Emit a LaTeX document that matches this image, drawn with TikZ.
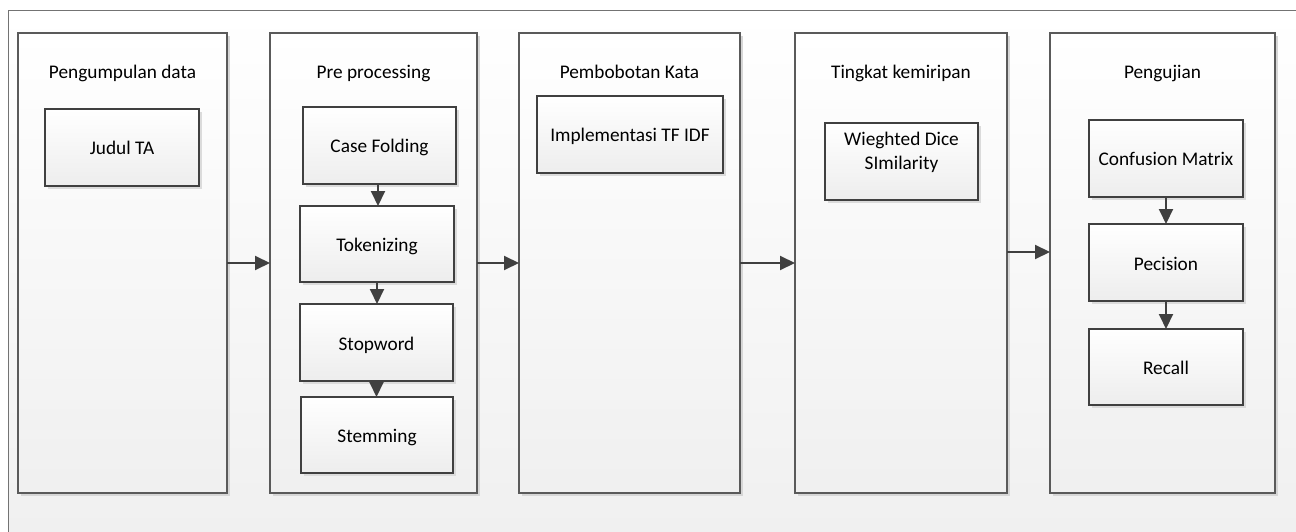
\documentclass[tikz,border=0pt]{standalone}
\usepackage{fontspec}
\setmainfont{Carlito}
\usetikzlibrary{arrows.meta,shadows}
\definecolor{edgegray}{HTML}{404040}
\definecolor{colgray}{HTML}{5A5A5A}
\begin{document}
\begin{tikzpicture}[x=1pt,y=-1pt,
  every node/.style={font=\fontsize{19.3}{23.5}\selectfont, text=black, inner sep=0pt, outer sep=0pt},
  colbox/.style={draw=colgray, line width=1.1pt, top color=white, bottom color=black!6,
    general shadow={fill=black!16, shadow xshift=3pt, shadow yshift=-3pt},
    minimum height=460pt},
  stepbox/.style={draw=edgegray, line width=1.3pt, top color=white, bottom color=black!7,
    general shadow={fill=black!14, shadow xshift=3pt, shadow yshift=-3pt},
    minimum height=77pt, minimum width=154pt, align=center, text height=15pt, text depth=0pt},
  title/.style={anchor=base},
  arr/.style={draw=edgegray, line width=2pt, -{Triangle[length=15pt,width=14pt]}}
]
\useasboundingbox (0,0) rectangle (1296,532);
\clip (0,0) rectangle (1296,532);
\draw[draw=black!55, line width=1pt, top color=white, bottom color=black!6] (8,11) rectangle (1310,545);

% columns
\node[colbox, minimum width=209pt] (col1) at (122.5,263) {};
\node[colbox, minimum width=207pt] (col2) at (373.5,263) {};
\node[colbox, minimum width=221pt] (col3) at (629.5,263) {};
\node[colbox, minimum width=212pt] (col4) at (901,263) {};
\node[colbox, minimum width=225pt] (col5) at (1162.5,263) {};

% titles
\node[title] (t1) at (122.5,79) {Pengumpulan data};
\node[title] (t2) at (373.5,79) {Pre processing};
\node[title] (t3) at (629.5,79) {Pembobotan Kata};
\node[title] (t4) at (901,79) {Tingkat kemiripan};
\node[title] (t5) at (1162.5,79) {Pengujian};

% boxes
\node[stepbox] (judul) at (122,147.5) {Judul TA};
\node[stepbox, minimum width=153pt] (case) at (379.5,145.5) {Case Folding};
\node[stepbox, minimum height=76pt] (tok) at (377,244) {Tokenizing};
\node[stepbox, minimum width=153pt] (stop) at (376.5,342.5) {Stopword};
\node[stepbox, minimum width=152pt, minimum height=76pt] (stem) at (377,435) {Stemming};
\node[stepbox, minimum width=186pt] (impl) at (630,134.5) {Implementasi TF IDF};
\node[stepbox, minimum width=153pt] (dice) at (901.5,161.5) {Wieghted Dice\\SImilarity};
\node[stepbox] (conf) at (1166,158.5) {Confusion Matrix};
\node[stepbox] (prec) at (1166,262.5) {Pecision};
\node[stepbox, minimum height=76pt] (rec) at (1166,367) {Recall};

% arrows between columns
\draw[arr] (col1.east) -- (col2.west);
\draw[arr] (col2.east) -- (col3.west);
\draw[arr] (col3.east) -- (col4.west);
\draw[arr] ([yshift=11pt]col4.east) -- ([yshift=11pt]col5.west);

% arrows inside columns
\draw[arr] ([xshift=-1.5pt]case.south) -- ([xshift=-1.5pt]case.south |- tok.north);
\draw[arr] (tok.south) -- (tok.south |- stop.north);
\draw[arr] (stop.south) -- (stop.south |- stem.north);
\draw[arr] (conf.south) -- (prec.north);
\draw[arr] (prec.south) -- (rec.north);
\end{tikzpicture}
\end{document}
